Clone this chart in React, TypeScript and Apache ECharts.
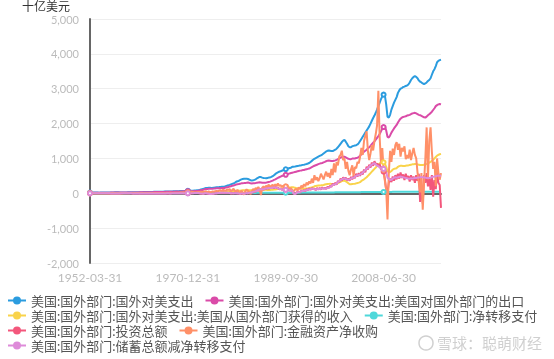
import React, { useEffect, useRef } from "react";
import * as echarts from "echarts";

// Quarter-end category labels 1952-03-31 … 2019-06-30
const quarterEnds = ["03-31", "06-30", "09-30", "12-31"];
const categories: string[] = [];
for (let y = 1952; y <= 2019; y++) {
  for (let q = 0; q < 4; q++) {
    if (y === 2019 && q > 1) break;
    categories.push(`${y}-${quarterEnds[q]}`);
  }
}

const unitName = "十亿美元";

const seriesNames = [
  "美国:国外部门:国外对美支出",
  "美国:国外部门:国外对美支出:美国对国外部门的出口",
  "美国:国外部门:国外对美支出:美国从国外部门获得的收入",
  "美国:国外部门:净转移支付",
  "美国:国外部门:投资总额",
  "美国:国外部门:金融资产净收购",
  "美国:国外部门:储蓄总额减净转移支付",
];

const foreignSpending = [
  20,20,19,19, 19,19,19,18, 19,19,20,20, 21,21,22,22, 24,25,26,27, 28,28,27,26, 25,25,25,26, 26,27,27,28,
  29,30,31,31, 31,32,32,33, 33,34,34,34, 35,36,37,38, 40,41,42,43, 42,44,45,46, 47,48,49,50, 51,51,52,53, 55,56,58,58, 57,63,64,65,
  67,69,70,71, 72,73,74,72, 77,80,84,88, 98,108,118,128, 142,150,154,158, 157,155,158,162, 168,172,176,178, 182,186,188,190, 205,218,228,240, 255,270,285,300,
  330,345,355,380, 400,410,415,420, 420,410,395,375, 370,375,385,400, 430,450,470,465, 450,440,435,430, 440,450,455,470, 490,520,550,580, 600,620,630,645, 660,675,690,700,
  710,725,735,760, 760,765,775,785, 790,800,805,815, 820,830,840,855, 870,900,930,960, 990,1010,1030,1050, 1070,1090,1110,1140, 1170,1200,1220,1230, 1220,1210,1210,1230, 1250,1280,1320,1370,
  1420,1470,1510,1530, 1480,1420,1350,1320, 1320,1350,1360,1370, 1380,1400,1440,1500, 1560,1620,1680,1740, 1800,1860,1920,2000, 2080,2160,2230,2310, 2400,2500,2600,2700, 2780,2830,2800,2550, 2200,2170,2250,2400,
  2500,2600,2680,2760, 2880,2950,3000,3020, 3050,3060,3080,3090, 3120,3180,3250,3300, 3340,3360,3340,3300, 3240,3200,3180,3150, 3130,3150,3180,3220, 3250,3300,3400,3500, 3560,3650,3760,3800, 3820,3830,
];

const exportsToForeign = [
  16,16,15,15, 15,15,15,15, 15,16,16,16, 17,17,18,18, 19,20,21,22, 23,23,22,21, 20,20,20,20, 20,21,22,22,
  24,25,26,26, 26,26,27,27, 27,28,28,28, 29,30,30,31, 33,34,35,35, 34,36,37,38, 39,40,41,42, 43,43,44,44, 46,47,49,48, 47,53,54,55,
  57,59,60,60, 61,61,62,60, 64,66,69,73, 81,89,97,104, 115,122,126,130, 130,128,131,134, 138,141,144,146, 148,151,152,153, 164,175,183,192, 203,214,225,236,
  250,258,265,275, 285,290,292,295, 300,310,300,285, 280,285,290,295, 305,310,315,312, 305,300,300,305, 315,325,335,350, 365,385,400,420, 440,460,480,495, 510,520,530,545,
  555,570,580,590, 600,610,620,630, 640,650,655,665, 670,680,690,700, 710,730,750,770, 790,805,820,835, 850,860,870,885, 900,920,935,940, 935,925,925,935, 945,960,980,1000,
  1020,1040,1050,1050, 1030,1010,990,980, 980,995,1000,1000, 1010,1020,1040,1080, 1120,1160,1190,1220, 1250,1290,1320,1360, 1410,1450,1490,1540, 1590,1640,1700,1780, 1850,1900,1930,1800, 1620,1600,1660,1740,
  1800,1860,1910,1960, 2030,2090,2140,2170, 2190,2200,2210,2230, 2240,2250,2270,2290, 2300,2310,2290,2270, 2250,2240,2220,2200, 2180,2170,2200,2240, 2270,2300,2340,2390, 2440,2500,2530,2550, 2560,2550,
];

const incomeFromForeign = [
  3,3,3,3, 3,3,3,3, 3,3,3,3, 3,3,4,4, 4,4,4,4, 4,4,4,4, 4,4,4,4, 5,5,5,5,
  5,5,5,5, 5,5,6,6, 6,6,6,6, 6,7,7,7, 7,7,8,8, 8,8,8,8, 9,9,9,9, 9,9,10,10, 10,10,11,11, 11,12,12,13,
  13,13,13,13, 14,14,14,14, 15,15,16,16, 18,20,22,24, 26,28,28,28, 26,26,26,27, 29,30,31,32, 33,34,35,36, 40,42,45,48, 52,58,63,68,
  72,72,73,74, 80,86,90,90, 90,92,88,84, 85,86,88,90, 102,106,110,108, 100,98,98,98, 96,96,97,98, 100,106,112,116, 122,128,135,140, 148,152,155,158,
  162,168,170,175, 170,160,150,148, 140,136,134,132, 134,136,138,140, 150,160,170,178, 200,210,218,222, 226,228,232,238, 250,258,265,270, 272,270,268,266, 275,285,295,310,
  330,350,360,365, 340,320,290,260, 260,265,270,275, 285,295,305,320, 350,380,400,430, 460,500,540,580, 620,660,700,740, 780,820,860,880, 880,890,850,760, 640,600,610,640,
  680,700,710,720, 760,780,790,790, 780,780,790,800, 800,810,820,830, 830,840,840,830, 820,810,810,810, 820,830,840,860, 880,900,930,960, 1000,1040,1080,1100, 1120,1130,
];

const netTransfers = [
  2,2,2,2, 2,2,2,2, 2,2,2,2, 2,2,2,2, 2,2,2,2, 2,2,2,2, 2,2,2,2, 2,2,2,2,
  3,3,3,3, 3,3,3,3, 3,3,3,3, 3,3,3,3, 3,3,3,3, 4,4,4,4, 4,4,4,4, 4,4,4,4, 4,4,4,4, 4,4,4,4,
  4,4,4,4, 5,5,5,5, 5,5,5,5, 5,5,5,5, 5,5,5,5, 5,5,5,5, 5,5,5,5, 6,6,6,6, 6,6,6,6, 7,7,7,7,
  8,8,8,8, 9,9,9,9, 10,10,10,10, 11,11,11,11, 12,12,12,12, 13,13,13,13, 14,14,14,14, 14,14,14,14, 15,15,15,15, 16,16,16,16,
  17,17,18,18, 10,5,8,12, 18,18,19,19, 20,20,20,20, 21,21,21,21, 22,22,22,22, 23,23,23,23, 24,24,24,24, 26,26,26,26, 28,28,28,28,
  30,30,30,30, 31,31,31,31, 32,32,32,32, 33,33,33,33, 34,34,34,34, 36,36,36,36, 37,37,37,37, 38,38,38,38, 39,39,39,39, 40,40,40,40,
  41,41,41,41, 42,42,42,42, 42,42,42,42, 43,43,43,43, 44,44,44,44, 44,44,44,44, 45,45,45,45, 45,45,45,45, 46,46,46,46, 46,46,
];

const grossInvestment = [
  -2,0,2,3, 1,2,3,2, 1,0,-1,0, 0,-2,-3,-1, -3,-5,-3,-4, -6,-5,-7,-4, -3,0,-2,-1, 2,3,0,2,
  -3,-2,-5,-3, -6,-3,-5,-4, -3,-5,-3,-4, -5,-3,-6,-4, -8,-6,-7,-5, -4,-6,-5,-4, -2,-4,-3,-1, -3,-2,-4,-1, 0,-2,1,-1, 1,-2,2,0,
  -3,0,-4,2, 0,3,1,5, 10,6,12,9, 2,-6,-8,-15, 4,0,-8,-10, -25,-15,-20,-5, 5,-2,10,6, 20,10,22,12, 8,18,5,20, -10,8,-5,12,
  10,-10,5,-20, 0,-15,10,-5, 20,-10,30,10, 40,20,60,45, 100,70,130,90, 140,100,150,120, 160,130,170,150, 180,140,190,150, 160,110,140,100, 120,80,110,90,
  110,70,100,60, 10,-30,20,40, 50,20,80,60, 90,60,120,90, 140,100,150,120, 130,90,150,110, 150,110,170,130, 160,120,190,150, 220,180,280,230, 300,250,360,310,
  420,360,460,400, 450,370,420,360, 470,400,500,430, 560,480,580,500, 620,540,680,600, 760,680,820,740, 880,790,920,820, 860,780,840,680, 760,620,400,100, 30,300,420,320,
  480,360,520,400, 560,420,600,440, 540,380,560,420, 500,340,520,380, 480,300,520,360, 560,-250,200,-300, 520,300,580,200, 440,100,520,-100, 380,120,620,300, 240,-420,
];

const netFinancialAssets = [
  1,2,3,2, 2,3,2,1, 2,3,4,3, 3,4,3,4, 4,5,4,5, 3,4,3,4, 5,4,6,5, 4,5,4,6,
  5,4,6,5, 6,5,4,6, 5,6,5,7, 6,7,8,6, 7,8,9,7, 8,9,8,10, 9,11,10,12, 10,12,13,11, 14,12,15,13, 16,18,14,17,
  20,15,25,30, 35,28,45,40, 20,25,30,35, 30,45,35,50, 40,60,30,55, 25,40,50,45, 60,70,55,80, 90,65,100,85, 70,110,95,120, 60,90,130,70,
  50,100,40,-20, 80,30,-40,60, 110,70,40,-30, 60,120,90,150, 130,180,110,-50, 160,200,130,220, 180,250,170,220, 240,190,260,200, 280,210,240,180, 220,160,200,250,
  180,120,150,90, 60,100,130,80, 170,120,220,160, 260,200,310,240, 340,280,420,300, 520,380,460,350, 430,560,480,400, 520,620,480,580, 440,700,520,860, 600,900,800,1050,
  1100,1220,950,1000, 700,900,650,520, 680,800,500,750, 720,900,860,1050, 1300,1100,1500,1650, 1780,1200,950,1150, 1380,1230,1500,1700, 1950,2940,1600,860, 1300,670,350,100, -750,580,1220,900,
  1280,1100,1380,1470, 1250,1420,1050,1300, 1200,1350,980,1100, 1000,1250,950,1150, 1300,1100,1000,600, 300,30,580,-470, 300,1000,1890,400, 1500,1890,1200,700, 900,200,1000,600, 390,580,
];

const savingLessTransfers = [
  -2,-1,0,1, 0,1,2,2, 0,-1,-1,-1, -1,-2,-2,-2, -3,-4,-4,-4, -5,-6,-5,-5, -2,-1,-1,-1, 1,2,1,1,
  -2,-3,-4,-4, -5,-4,-4,-5, -4,-4,-4,-3, -4,-4,-5,-5, -7,-7,-6,-6, -5,-5,-5,-5, -3,-3,-3,-2, -2,-3,-3,-2, -1,-1,0,0, 0,-1,0,0,
  -2,-2,-2,0, -1,1,2,3, 8,9,10,8, -1,-4,-10,-12, -1,3,-4,-12, -20,-18,-15,-10, -2,3,6,9, 14,16,15,14, 12,13,12,11, 0,-1,0,1,
  3,2,-4,-10, -5,-3,-4,-8, 5,3,12,20, 25,40,48,56, 80,95,110,118, 115,118,130,140, 145,150,155,152, 160,165,165,168, 140,125,120,115, 100,95,100,105,
  95,85,80,70, -10,-25,-5,30, 30,40,60,65, 70,80,90,110, 110,120,130,130, 115,110,120,125, 125,130,140,145, 130,140,150,160, 180,210,240,250, 260,280,320,340,
  380,400,420,430, 410,400,390,400, 420,440,450,470, 500,520,520,540, 560,590,630,670, 700,720,760,800, 820,850,860,830, 790,780,740,720, 720,700,690,620, 450,420,380,390,
  420,440,460,450, 460,470,480,470, 460,450,440,430, 420,420,430,420, 430,440,440,450, 450,460,470,460, 450,450,440,440, 440,450,460,470, 480,490,500,500, 500,500,
];

const seriesValues = [
  foreignSpending,
  exportsToForeign,
  incomeFromForeign,
  netTransfers,
  grossInvestment,
  netFinancialAssets,
  savingLessTransfers,
];

const colors = ["#2B9CDF", "#DA4BA8", "#F9D34B", "#4ED8DA", "#F3577C", "#FF9068", "#DE8BD9"];

const yTicks = { min: -2000, max: 5000, interval: 1000 };

// legend icon: a short line with a filled dot
const legendIcon = "path://M0,4H18V6H0Z M5,5A4,4,0,1,1,13,5A4,4,0,1,1,5,5Z";

export default function App() {
  const ref = useRef<HTMLDivElement>(null);
  useEffect(() => {
    if (!ref.current) return;
    const chart = echarts.init(ref.current, undefined, { renderer: "svg" });
    const font = "Lato, 'Noto Sans CJK SC', sans-serif";
    const legendBase = {
      left: 8,
      orient: "horizontal",
      itemWidth: 18,
      itemHeight: 10,
      itemGap: 12,
      padding: 0,
      icon: legendIcon,
      textStyle: { fontSize: 13, color: "#555", fontFamily: font },
    };
    chart.setOption({
      animation: false,
      color: colors,
      textStyle: { fontFamily: font },
      grid: { left: 90, right: 113, top: 19, bottom: 96, containLabel: false },
      legend: [
        { ...legendBase, top: 294, data: [seriesNames[0], seriesNames[1]] },
        { ...legendBase, top: 309, data: [seriesNames[2], seriesNames[3]] },
        { ...legendBase, top: 324, data: [seriesNames[4], seriesNames[5]] },
        { ...legendBase, top: 339, data: [seriesNames[6]] },
      ],
      xAxis: {
        type: "category",
        data: categories,
        boundaryGap: false,
        axisLine: { lineStyle: { color: "#666", width: 2 } },
        axisTick: { show: false },
        axisLabel: { interval: 74, color: "#bbb", fontSize: 12, margin: 8 },
        splitLine: { show: false },
      },
      yAxis: {
        type: "value",
        min: yTicks.min,
        max: yTicks.max,
        interval: yTicks.interval,
        axisLine: { show: true, lineStyle: { color: "#666", width: 2 } },
        axisTick: { show: false },
        axisLabel: {
          color: "#bbb",
          fontSize: 11,
          margin: 11,
          lineHeight: 11,
          formatter: (v: number) => v.toLocaleString("en-US"),
        },
        splitLine: { lineStyle: { color: "#eee" } },
      },
      graphic: [
        {
          type: "text",
          left: 22,
          top: 0,
          style: { text: unitName, fill: "#333", fontSize: 12, lineHeight: 11, fontFamily: font },
        },
        {
          type: "text",
          left: 437,
          top: 335,
          style: { text: "雪球：聪萌财经", fill: "#d0d0d0", fontSize: 15, fontFamily: font },
        },
        {
          type: "circle",
          shape: { cx: 426, cy: 343, r: 7 },
          style: { fill: "none", stroke: "#d0d0d0", lineWidth: 1.5 },
        },
      ],
      series: seriesNames.map((name, i) => ({
        name,
        type: "line",
        data: seriesValues[i],
        symbol: "emptyCircle",
        symbolSize: 4,
        lineStyle: { width: 2 },
      })),
    });
    return () => chart.dispose();
  }, []);
  return (
    <div
      ref={ref}
      style={{ position: "fixed", left: 0, top: 0, width: 554, height: 359 }}
    />
  );
}
